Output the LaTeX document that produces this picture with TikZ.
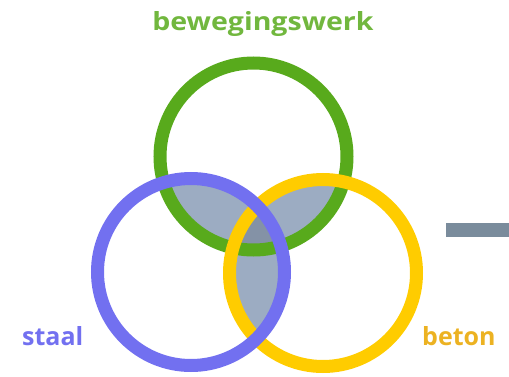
\documentclass[tikz,border=0pt]{standalone}
\usepackage{fontspec}
\setmainfont{Open Sans}
\definecolor{groen}{RGB}{88,170,28}
\definecolor{blauw}{RGB}{114,112,240}
\definecolor{geel}{RGB}{255,204,0}
\definecolor{oker}{RGB}{236,178,34}
\definecolor{overlap}{RGB}{156,172,194}
\definecolor{kern}{RGB}{132,146,166}
\definecolor{balk}{RGB}{122,140,156}
\tikzset{
  ring/.style={draw=#1, line width=13pt},
  label/.style={font=\fontsize{25}{29}\selectfont\bfseries, inner sep=0pt}
}
\begin{document}
\begin{tikzpicture}[x=1pt, y=1pt]
  \useasboundingbox (0,0) rectangle (509,376);
  \def\r{93.5}
  \coordinate (G) at (253.5,219.5);
  \coordinate (B) at (191,104);
  \coordinate (Y) at (323,103);

  % overlap of each pair
  \begin{scope}
    \clip (G) circle [radius=\r];
    \fill[overlap] (B) circle [radius=\r];
    \fill[overlap] (Y) circle [radius=\r];
  \end{scope}
  \begin{scope}
    \clip (B) circle [radius=\r];
    \fill[overlap] (Y) circle [radius=\r];
  \end{scope}
  % middle part, all three
  \begin{scope}
    \clip (G) circle [radius=\r];
    \clip (B) circle [radius=\r];
    \fill[kern] (Y) circle [radius=\r];
  \end{scope}

  \draw[ring=groen] (G) circle [radius=\r];
  \draw[ring=geel] (Y) circle [radius=\r];
  \draw[ring=blauw] (B) circle [radius=\r];

  \fill[balk] (446,139) rectangle (509,153);

  \node[label, text=groen!85!white, anchor=base, xscale=1.14] (beweging) at (263,345) {bewegingswerk};
  \node[label, text=blauw, anchor=base west] (staal) at (22,31) {staal};
  \node[label, text=oker, anchor=base west] (beton) at (422,31) {beton};
\end{tikzpicture}
\end{document}
